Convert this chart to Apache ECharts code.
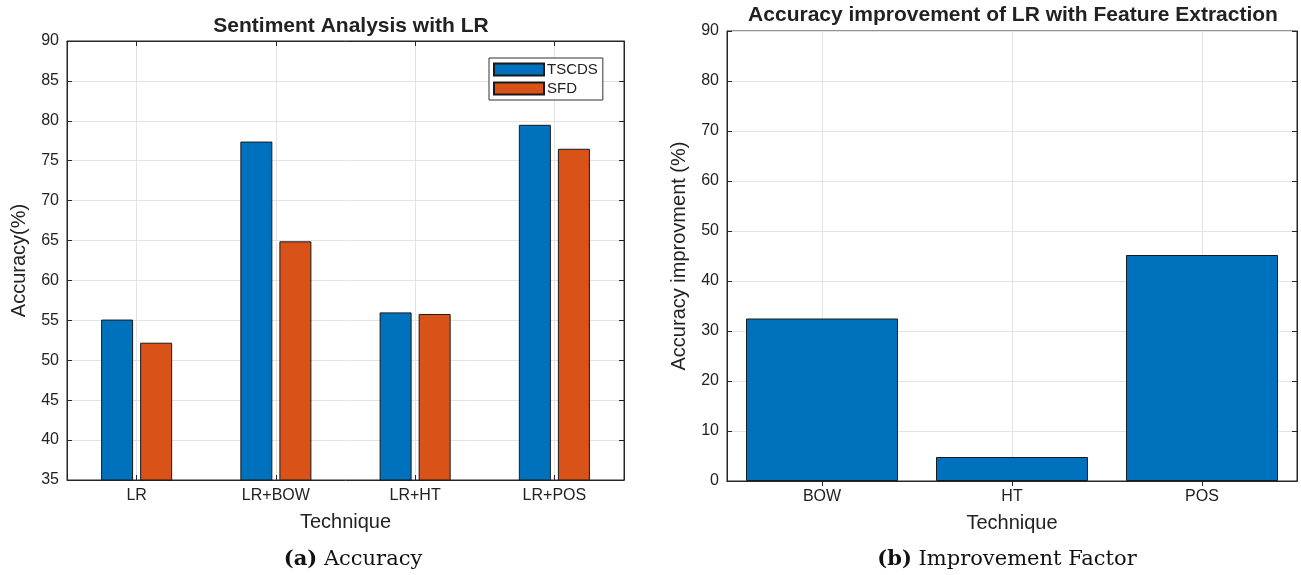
<!DOCTYPE html>
<html>
<head>
<meta charset="utf-8">
<script src="https://cdn.jsdelivr.net/npm/echarts@6/dist/echarts.min.js"></script>
<style>
  html, body { margin: 0; padding: 0; background: #fff; }
  #chart { width: 1301px; height: 575px; }
</style>
</head>
<body>
<div id="chart"></div>
<script>
// Accuracy of logistic regression variants on two datasets
const techniques = ['LR', 'LR+BOW', 'LR+HT', 'LR+POS'];
const tscdsAccuracy = [55.1, 77.4, 56.0, 79.5];
const sfdAccuracy = [52.2, 64.9, 55.8, 76.5];
const accuracyTicks = { min: 35, max: 90, interval: 5 };

// Improvement gained by each feature extraction method
const features = ['BOW', 'HT', 'POS'];
const improvement = [32.5, 4.8, 45.2];
const improvementTicks = { min: 0, max: 90, interval: 10 };

const BLUE = '#0072BD';
const ORANGE = '#D95319';
const AXIS = '#262626';
const GRID = '#e3e3e3';
const FONT = '"Liberation Sans", Arial, sans-serif';
const SERIF = '"DejaVu Serif", "Liberation Serif", serif';

const chart = echarts.init(document.getElementById('chart'), null, { renderer: 'canvas' });

function categoryAxis(gridIndex, data, bottom) {
  return {
    type: 'category', gridIndex, data,
    position: bottom ? 'bottom' : 'top',
    name: bottom ? 'Technique' : '',
    nameLocation: 'middle', nameGap: 32,
    nameTextStyle: { fontFamily: FONT, fontSize: 20, color: '#222' },
    axisLine: { show: true, lineStyle: { color: AXIS, width: 1 } },
    axisTick: { show: true, inside: true, length: 5, alignWithLabel: true, lineStyle: { color: AXIS } },
    axisLabel: { show: bottom, margin: 8, fontFamily: FONT, fontSize: 16, color: '#222' },
    splitLine: { show: bottom, alignWithLabel: true, lineStyle: { color: GRID, width: 1 } }
  };
}

function valueAxis(gridIndex, ticks, left, name, gap) {
  return {
    type: 'value', gridIndex, min: ticks.min, max: ticks.max, interval: ticks.interval,
    position: left ? 'left' : 'right',
    name: left ? name : '',
    nameLocation: 'middle', nameGap: gap,
    nameTextStyle: { fontFamily: FONT, fontSize: 20, color: '#222' },
    axisLine: { show: true, lineStyle: { color: AXIS, width: 1 } },
    axisTick: { show: true, inside: true, length: 5, lineStyle: { color: AXIS } },
    axisLabel: { show: left, margin: 8, fontFamily: FONT, fontSize: 16, color: '#222' },
    splitLine: { show: left, lineStyle: { color: GRID, width: 1 } }
  };
}

const option = {
  backgroundColor: '#fff',
  animation: false,
  title: [
    { text: 'Sentiment Analysis with LR', left: 346, top: 11, textAlign: 'center',
      textStyle: { fontFamily: FONT, fontSize: 21, fontWeight: 'bold', color: '#222' } },
    { text: 'Accuracy improvement of LR with Feature Extraction', left: 1008, top: 0, textAlign: 'center',
      textStyle: { fontFamily: FONT, fontSize: 21, fontWeight: 'bold', color: '#222' } }
  ],
  legend: {
    left: 489, top: 58, orient: 'vertical',
    data: ['TSCDS', 'SFD'],
    icon: 'rect', itemWidth: 50, itemHeight: 12, itemGap: 4,
    padding: [4, 5, 4, 4],
    borderColor: '#333', borderWidth: 1, backgroundColor: '#fff',
    textStyle: { fontFamily: FONT, fontSize: 15, lineHeight: 14, color: '#222', padding: [0, 0, 0, -2] }
  },
  grid: [
    { left: 67, right: 677, top: 41, bottom: 95, show: true, borderColor: AXIS, borderWidth: 1 },
    { left: 727, right: 4, top: 31, bottom: 94, show: true, borderColor: AXIS, borderWidth: 1 }
  ],
  xAxis: [
    categoryAxis(0, techniques, true),
    categoryAxis(0, techniques, false),
    categoryAxis(1, features, true),
    categoryAxis(1, features, false)
  ],
  yAxis: [
    valueAxis(0, accuracyTicks, true, 'Accuracy(%)', 38),
    valueAxis(0, accuracyTicks, false, '', 0),
    valueAxis(1, improvementTicks, true, 'Accuracy improvment (%)', 38),
    valueAxis(1, improvementTicks, false, '', 0)
  ],
  series: [
    { name: 'TSCDS', type: 'bar', xAxisIndex: 0, yAxisIndex: 0, data: tscdsAccuracy,
      barWidth: 32, barGap: '22%',
      itemStyle: { color: BLUE, borderColor: '#1a1a1a', borderWidth: 1 } },
    { name: 'SFD', type: 'bar', xAxisIndex: 0, yAxisIndex: 0, data: sfdAccuracy,
      barWidth: 32, barGap: '22%',
      itemStyle: { color: ORANGE, borderColor: '#1a1a1a', borderWidth: 1 } },
    { name: 'Improvement', type: 'bar', xAxisIndex: 2, yAxisIndex: 2, data: improvement,
      barWidth: '80%',
      itemStyle: { color: BLUE, borderColor: '#1a1a1a', borderWidth: 1 } }
  ],
  graphic: [
    { type: 'text', x: 353, y: 560,
      style: { text: '{b|(a)} Accuracy', font: '21px ' + SERIF, fill: '#111',
        textAlign: 'center', textVerticalAlign: 'middle',
        rich: { b: { fontFamily: SERIF, fontSize: 21, fontWeight: 'bold', fill: '#111' } } } },
    { type: 'text', x: 1007, y: 560,
      style: { text: '{b|(b)} Improvement Factor', font: '21px ' + SERIF, fill: '#111',
        textAlign: 'center', textVerticalAlign: 'middle',
        rich: { b: { fontFamily: SERIF, fontSize: 21, fontWeight: 'bold', fill: '#111' } } } }
  ]
};

chart.setOption(option);
</script>
</body>
</html>
